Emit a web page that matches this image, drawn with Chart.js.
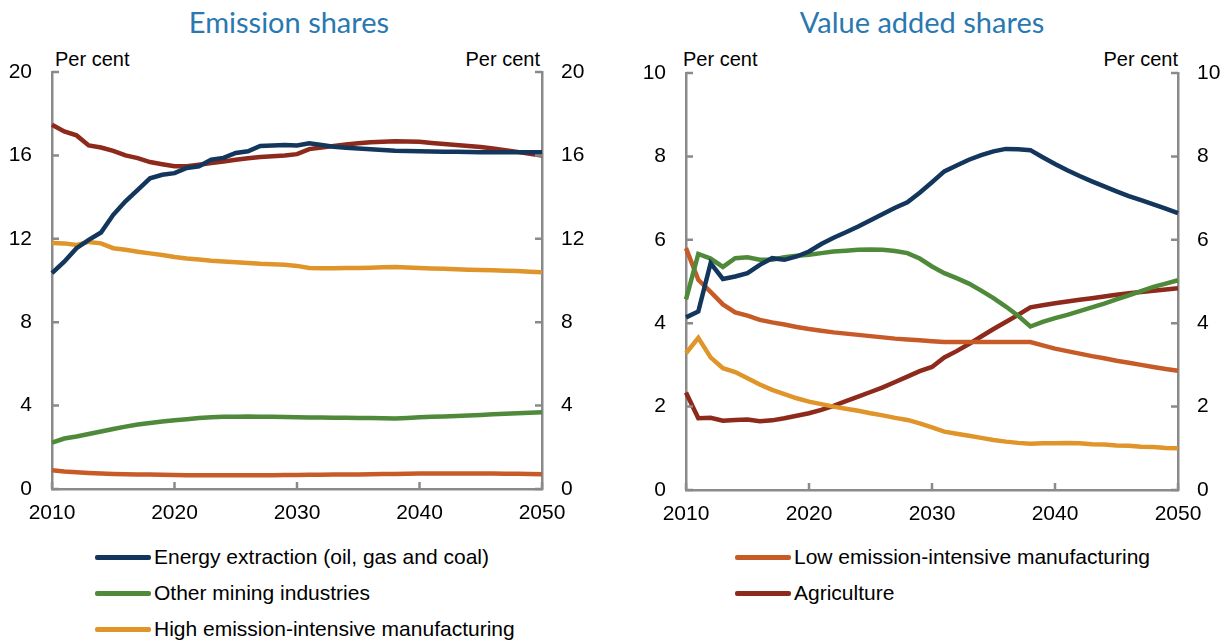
<!DOCTYPE html>
<html>
<head>
<meta charset="utf-8">
<script src="https://cdn.jsdelivr.net/npm/chart.js@4"></script>
<style>
  body { margin: 0; background: #fff; width: 1232px; height: 641px; position: relative; overflow: hidden;
         font-family: "Liberation Sans", Arial, sans-serif; color: #000; }
  canvas { position: absolute; top: 0; }
  .title { position: absolute; top: 4px; width: 320px; text-align: center; font-family: Lato, sans-serif;
           font-size: 29px; color: #2a78b0; white-space: nowrap; }
  .unit { position: absolute; top: 48px; font-size: 20px; white-space: nowrap; }
  .leg { position: absolute; height: 26px; display: flex; align-items: center; font-size: 21px; white-space: nowrap; }
  .leg span.sw { display: inline-block; width: 56px; height: 5px; border-radius: 2px; margin-right: 3px; }
</style>
</head>
<body>
<div class="title" style="left:129px">Emission shares</div>
<div class="title" style="left:762px">Value added shares</div>
<div class="unit" style="left:55px">Per cent</div>
<div class="unit" style="right:692px">Per cent</div>
<div class="unit" style="left:683px">Per cent</div>
<div class="unit" style="right:54px">Per cent</div>
<canvas id="left" width="616" height="540" style="left:0"></canvas>
<canvas id="right" width="616" height="540" style="left:616px"></canvas>
<div id="legend"></div>
<script>
const years = Array.from({ length: 41 }, (_, i) => 2010 + i);

const seriesNames = [
  'Energy extraction (oil, gas and coal)',
  'Other mining industries',
  'High emission-intensive manufacturing',
  'Low emission-intensive manufacturing',
  'Agriculture'
];
const colours = ['#13365c', '#4f8a3b', '#e0952a', '#c75b28', '#8d2a1c'];

// Emission shares, per cent
const energyEm = [10.35, 10.9, 11.55, 11.95, 12.3, 13.15, 13.8, 14.35, 14.9, 15.07, 15.15, 15.4, 15.48, 15.8, 15.88,
  16.12, 16.2, 16.45, 16.48, 16.5, 16.48, 16.58, 16.5, 16.42, 16.37, 16.33, 16.3, 16.26, 16.22, 16.21, 16.2,
  16.19, 16.18, 16.17, 16.16, 16.15, 16.15, 16.15, 16.15, 16.15, 16.15];
const miningEm = [2.22, 2.42, 2.52, 2.64, 2.76, 2.88, 2.99, 3.09, 3.17, 3.24, 3.3, 3.35, 3.4, 3.44, 3.46, 3.47,
  3.48, 3.47, 3.46, 3.45, 3.44, 3.43, 3.43, 3.42, 3.42, 3.41, 3.4, 3.39, 3.38, 3.41, 3.44, 3.46, 3.48, 3.5,
  3.53, 3.55, 3.58, 3.61, 3.63, 3.66, 3.68];
const highEm = [11.8, 11.78, 11.7, 11.85, 11.78, 11.55, 11.47, 11.38, 11.3, 11.22, 11.13, 11.06, 11.01, 10.95,
  10.91, 10.87, 10.84, 10.8, 10.78, 10.75, 10.7, 10.6, 10.59, 10.59, 10.6, 10.6, 10.61, 10.63, 10.65, 10.62,
  10.6, 10.58, 10.56, 10.54, 10.52, 10.5, 10.49, 10.47, 10.45, 10.42, 10.4];
const lowEm = [0.9, 0.84, 0.8, 0.77, 0.74, 0.72, 0.71, 0.7, 0.69, 0.68, 0.67, 0.66, 0.66, 0.66, 0.66, 0.66, 0.66,
  0.66, 0.66, 0.67, 0.67, 0.68, 0.68, 0.69, 0.69, 0.7, 0.71, 0.72, 0.72, 0.73, 0.74, 0.74, 0.74, 0.74, 0.74,
  0.74, 0.74, 0.73, 0.73, 0.72, 0.71];
const agriEm = [17.47, 17.15, 16.96, 16.48, 16.38, 16.22, 16.0, 15.87, 15.68, 15.58, 15.48, 15.48, 15.55, 15.63,
  15.71, 15.79, 15.86, 15.92, 15.96, 16.0, 16.06, 16.3, 16.38, 16.45, 16.52, 16.58, 16.63, 16.66, 16.68, 16.67,
  16.65, 16.6, 16.55, 16.5, 16.45, 16.4, 16.33, 16.25, 16.17, 16.08, 16.0];

// Value added shares, per cent
const energyVa = [4.14, 4.28, 5.44, 5.06, 5.12, 5.2, 5.4, 5.56, 5.52, 5.6, 5.72, 5.9, 6.05, 6.18, 6.32, 6.47,
  6.62, 6.77, 6.9, 7.13, 7.38, 7.64, 7.78, 7.92, 8.03, 8.12, 8.18, 8.17, 8.15, 7.98, 7.82, 7.67, 7.53, 7.4,
  7.28, 7.16, 7.05, 6.95, 6.85, 6.75, 6.64];
const miningVa = [4.57, 5.66, 5.55, 5.35, 5.56, 5.58, 5.52, 5.52, 5.58, 5.62, 5.64, 5.68, 5.72, 5.74, 5.76, 5.77,
  5.76, 5.73, 5.68, 5.55, 5.36, 5.2, 5.08, 4.95, 4.78, 4.6, 4.4, 4.18, 3.92, 4.03, 4.12, 4.2, 4.29, 4.38, 4.47,
  4.57, 4.67, 4.77, 4.87, 4.95, 5.03];
const highVa = [3.28, 3.65, 3.18, 2.92, 2.83, 2.68, 2.53, 2.4, 2.3, 2.2, 2.12, 2.06, 2.0, 1.95, 1.9, 1.84, 1.79,
  1.73, 1.68, 1.6, 1.5, 1.4, 1.35, 1.3, 1.25, 1.2, 1.16, 1.13, 1.11, 1.12, 1.12, 1.13, 1.12, 1.1, 1.09, 1.07,
  1.06, 1.04, 1.03, 1.01, 1.0];
const lowVa = [5.8, 5.04, 4.75, 4.45, 4.26, 4.18, 4.08, 4.02, 3.97, 3.91, 3.86, 3.82, 3.78, 3.75, 3.72, 3.69,
  3.66, 3.63, 3.61, 3.59, 3.57, 3.55, 3.55, 3.55, 3.55, 3.55, 3.55, 3.55, 3.55, 3.47, 3.39, 3.33, 3.27, 3.21,
  3.16, 3.1, 3.05, 3.0, 2.95, 2.9, 2.86];
const agriVa = [2.34, 1.72, 1.73, 1.66, 1.68, 1.69, 1.65, 1.67, 1.72, 1.78, 1.84, 1.92, 2.02, 2.13, 2.24, 2.35,
  2.46, 2.59, 2.72, 2.85, 2.95, 3.18, 3.33, 3.5, 3.68, 3.86, 4.03, 4.2, 4.38, 4.43, 4.48, 4.52, 4.56, 4.6,
  4.64, 4.68, 4.72, 4.75, 4.78, 4.81, 4.84];

const axisColour = '#8a8a8a';
const tickFont = { family: '"Liberation Sans", Arial, sans-serif', size: 21 };

// little tick marks pointing into the plot, like the original
const innerTicks = {
  id: 'innerTicks',
  afterDraw(chart) {
    const ctx = chart.ctx, a = chart.chartArea;
    ctx.save();
    ctx.strokeStyle = axisColour;
    ctx.lineWidth = 2.5;
    ctx.beginPath();
    const xs = chart.scales.x;
    years.forEach((yr, i) => {
      if (yr % 10) return;
      const px = xs.getPixelForValue(i);
      ctx.moveTo(px, a.bottom);
      ctx.lineTo(px, a.bottom - 7);
    });
    ['y', 'y2'].forEach(id => {
      const s = chart.scales[id];
      const edge = id === 'y' ? a.left : a.right;
      const dir = id === 'y' ? 1 : -1;
      s.ticks.forEach(t => {
        const py = s.getPixelForValue(t.value);
        ctx.moveTo(edge, py);
        ctx.lineTo(edge + dir * 7, py);
      });
    });
    ctx.stroke();
    ctx.restore();
  }
};

function makeChart(id, values, max, step, box) {
  return new Chart(document.getElementById(id), {
    type: 'line',
    data: {
      labels: years,
      datasets: values.map((v, i) => ({
        label: seriesNames[i],
        data: v,
        borderColor: colours[i],
        backgroundColor: colours[i],
        borderWidth: 4.5,
        pointRadius: 0,
        tension: 0,
        fill: false
      }))
    },
    options: {
      responsive: false,
      animation: false,
      layout: { padding: { top: box.top, left: 0, right: 0, bottom: 0 } },
      plugins: { legend: { display: false }, tooltip: { enabled: false } },
      scales: {
        x: {
          type: 'category',
          grid: { display: false, drawTicks: false },
          border: { color: axisColour, width: 2.5 },
          afterFit: s => { s.height = box.bottom; },
          ticks: {
            autoSkip: false, maxRotation: 0, padding: 12, color: '#000', font: tickFont,
            callback: (v, i) => (years[i] % 10 === 0 ? String(years[i]) : null)
          }
        },
        y: {
          position: 'left', min: 0, max: max,
          grid: { display: false, drawTicks: false },
          border: { color: axisColour, width: 2.5 },
          afterFit: s => { s.width = box.left; },
          ticks: { stepSize: step, padding: 20, color: '#000', font: tickFont }
        },
        y2: {
          position: 'right', min: 0, max: max,
          grid: { display: false, drawTicks: false },
          border: { color: axisColour, width: 2.5 },
          afterFit: s => { s.width = box.right; },
          ticks: { stepSize: step, padding: 19, color: '#000', font: tickFont }
        }
      }
    },
    plugins: [innerTicks]
  });
}

makeChart('left', [energyEm, miningEm, highEm, lowEm, agriEm], 20, 4,
  { top: 72, bottom: 51, left: 52, right: 74 });
makeChart('right', [energyVa, miningVa, highVa, lowVa, agriVa], 10, 2,
  { top: 73, bottom: 50, left: 70, right: 54 });

// legend: three entries under the left panel, two under the right one
const legendSpots = [[95, 544], [95, 580], [95, 616], [735, 544], [735, 580]];
const legendBox = document.getElementById('legend');
seriesNames.forEach((name, i) => {
  const d = document.createElement('div');
  d.className = 'leg';
  d.style.left = legendSpots[i][0] + 'px';
  d.style.top = legendSpots[i][1] + 'px';
  d.innerHTML = '<span class="sw" style="background:' + colours[i] + '"></span>' + name;
  legendBox.appendChild(d);
});
</script>
</body>
</html>
